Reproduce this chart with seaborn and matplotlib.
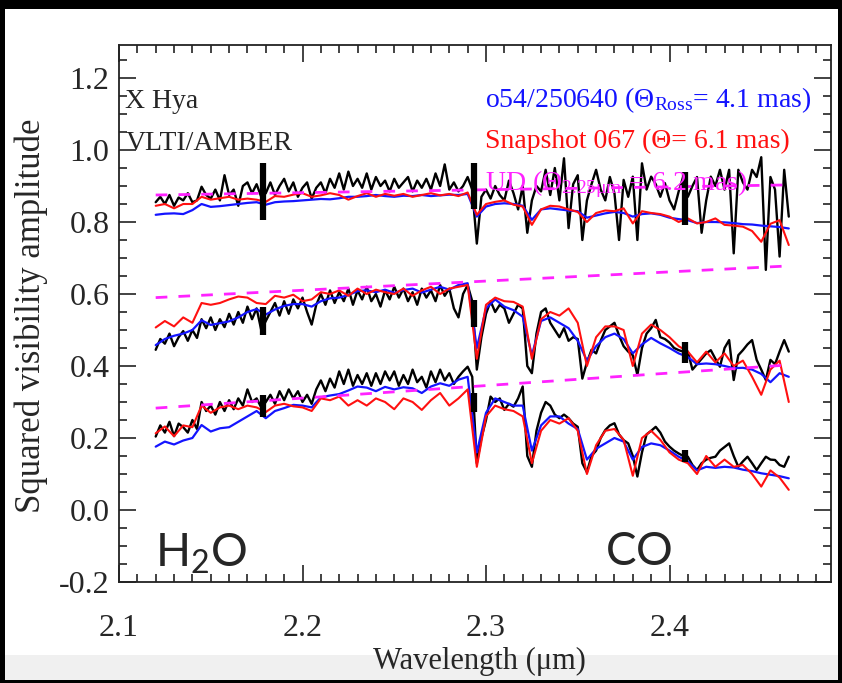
import numpy as np
import matplotlib
matplotlib.use("Agg")
import matplotlib.pyplot as plt
from matplotlib.patches import Rectangle
from matplotlib.ticker import MultipleLocator, FormatStrFormatter
import seaborn as sns

# ---------------------------------------------------------------------------
# X Hya, VLTI/AMBER squared visibilities vs. wavelength (three baselines)
# ---------------------------------------------------------------------------
wl_obs = np.linspace(2.12, 2.465, 139)     # observed spectral channels
wl_mod = np.linspace(2.12, 2.465, 70)      # model sampling

# observed V^2 (black)
top_obs = [
    0.855, 0.87, 0.85, 0.875, 0.845, 0.868, 0.86, 0.88, 0.855, 0.86,
    0.898, 0.875, 0.865, 0.89, 0.86, 0.93, 0.875, 0.89, 0.845, 0.9,
    0.91, 0.88, 0.905, 0.87, 0.88, 0.91, 0.875, 0.9, 0.92, 0.885,
    0.91, 0.87, 0.895, 0.91, 0.865, 0.895, 0.91, 0.88, 0.92, 0.895,
    0.935, 0.89, 0.94, 0.9, 0.92, 0.895, 0.935, 0.89, 0.925, 0.9,
    0.915, 0.885, 0.92, 0.895, 0.91, 0.925, 0.885, 0.915, 0.895, 0.92,
    0.89, 0.935, 0.9, 0.96, 0.89, 0.91, 0.885, 0.9, 0.925, 0.89,
    0.74, 0.87, 0.89, 0.865, 0.9, 0.875, 0.86, 0.915, 0.88, 0.835,
    0.9, 0.77, 0.86, 0.9, 0.885, 0.945, 0.875, 0.95, 0.86, 0.977,
    0.783, 0.905, 0.93, 0.75, 0.86, 0.905, 0.945, 0.89, 0.86, 0.925,
    0.88, 0.75, 0.917, 0.87, 0.926, 0.75, 0.963, 0.89, 0.926, 0.905,
    0.87, 0.908, 0.86, 0.835, 0.885, 0.926, 0.87, 0.90, 0.925, 0.77,
    0.86, 0.926, 0.9, 0.945, 0.89, 0.945, 0.713, 0.945, 0.91, 0.89,
    0.945, 0.925, 0.98, 0.667, 0.925, 0.89, 0.704, 0.945, 0.815,
]
mid_obs = [
    0.445, 0.475, 0.462, 0.49, 0.455, 0.48, 0.497, 0.47, 0.50, 0.478,
    0.53, 0.505, 0.535, 0.50, 0.53, 0.508, 0.545, 0.515, 0.55, 0.52,
    0.565, 0.53, 0.56, 0.50, 0.525, 0.55, 0.575, 0.54, 0.58, 0.545,
    0.585, 0.56, 0.59, 0.55, 0.515, 0.57, 0.60, 0.57, 0.61, 0.575,
    0.605, 0.58, 0.615, 0.57, 0.61, 0.585, 0.62, 0.58, 0.60, 0.565,
    0.61, 0.585, 0.62, 0.59, 0.615, 0.58, 0.605, 0.57, 0.615, 0.59,
    0.61, 0.58, 0.625, 0.595, 0.615, 0.56, 0.535, 0.60, 0.625, 0.58,
    0.39, 0.48, 0.545, 0.58, 0.55, 0.57, 0.56, 0.52, 0.545, 0.57,
    0.56, 0.40, 0.38, 0.49, 0.55, 0.56, 0.52, 0.50, 0.48, 0.505,
    0.47, 0.48, 0.475, 0.365, 0.41, 0.445, 0.435, 0.47, 0.50, 0.51,
    0.52, 0.485, 0.455, 0.44, 0.43, 0.375, 0.45, 0.49, 0.505, 0.528,
    0.48, 0.475, 0.465, 0.45, 0.444, 0.44, 0.44, 0.39, 0.405, 0.42,
    0.435, 0.444, 0.42, 0.398, 0.45, 0.472, 0.361, 0.43, 0.444, 0.46,
    0.472, 0.417, 0.39, 0.361, 0.417, 0.405, 0.44, 0.472, 0.44,
]
bot_obs = [
    0.204, 0.235, 0.215, 0.245, 0.205, 0.24, 0.23, 0.215, 0.25, 0.225,
    0.30, 0.275, 0.29, 0.265, 0.30, 0.275, 0.305, 0.28, 0.31, 0.29,
    0.335, 0.30, 0.31, 0.285, 0.30, 0.32, 0.295, 0.33, 0.305, 0.335,
    0.31, 0.33, 0.30, 0.32, 0.295, 0.335, 0.36, 0.33, 0.365, 0.34,
    0.385, 0.35, 0.39, 0.345, 0.375, 0.35, 0.38, 0.345, 0.38, 0.35,
    0.385, 0.36, 0.385, 0.345, 0.375, 0.35, 0.39, 0.355, 0.37, 0.34,
    0.385, 0.355, 0.39, 0.36, 0.38, 0.35, 0.37, 0.385, 0.398, 0.37,
    0.13, 0.20, 0.25, 0.315, 0.30, 0.31, 0.278, 0.295, 0.287, 0.31,
    0.343, 0.15, 0.12, 0.22, 0.27, 0.30, 0.29, 0.265, 0.255, 0.265,
    0.255, 0.24, 0.231, 0.13, 0.105, 0.15, 0.165, 0.20, 0.222, 0.235,
    0.241, 0.21, 0.194, 0.185, 0.15, 0.093, 0.16, 0.21, 0.22, 0.231,
    0.215, 0.19, 0.176, 0.165, 0.157, 0.15, 0.148, 0.125, 0.111, 0.13,
    0.14, 0.145, 0.148, 0.165, 0.175, 0.185, 0.15, 0.12, 0.135, 0.148,
    0.13, 0.111, 0.13, 0.148, 0.14, 0.139, 0.125, 0.12, 0.148,
]

# dynamic model atmosphere o54/250640 (blue)
top_dyn = [
    0.82, 0.823, 0.824, 0.822, 0.833, 0.85, 0.842, 0.844, 0.847, 0.85,
    0.853, 0.855, 0.848, 0.855, 0.857, 0.858, 0.86, 0.862, 0.864, 0.863,
    0.866, 0.87, 0.87, 0.872, 0.875, 0.872, 0.87, 0.873, 0.872, 0.875,
    0.872, 0.874, 0.876, 0.875, 0.878, 0.815, 0.843, 0.85, 0.852, 0.85,
    0.845, 0.806, 0.835, 0.838, 0.835, 0.832, 0.83, 0.812, 0.818, 0.824,
    0.828, 0.825, 0.815, 0.822, 0.824, 0.82, 0.812, 0.808, 0.805, 0.797,
    0.80, 0.80, 0.799, 0.797, 0.794, 0.793, 0.79, 0.788, 0.786, 0.782,
]
mid_dyn = [
    0.458, 0.475, 0.484, 0.49, 0.50, 0.527, 0.514, 0.519, 0.524, 0.535,
    0.55, 0.558, 0.543, 0.557, 0.567, 0.572, 0.572, 0.565, 0.58, 0.588,
    0.59, 0.597, 0.608, 0.61, 0.605, 0.612, 0.603, 0.611, 0.615, 0.604,
    0.612, 0.62, 0.612, 0.625, 0.63, 0.45, 0.56, 0.585, 0.565, 0.555,
    0.537, 0.43, 0.525, 0.535, 0.52, 0.505, 0.47, 0.415, 0.455, 0.48,
    0.49, 0.475, 0.435, 0.46, 0.478, 0.463, 0.45, 0.435, 0.425, 0.405,
    0.407, 0.405, 0.40, 0.394, 0.395, 0.39, 0.378, 0.355, 0.38, 0.37,
]
bot_dyn = [
    0.176, 0.19, 0.182, 0.193, 0.20, 0.236, 0.218, 0.227, 0.23, 0.245,
    0.26, 0.275, 0.255, 0.275, 0.283, 0.292, 0.29, 0.285, 0.313, 0.318,
    0.322, 0.332, 0.343, 0.34, 0.33, 0.342, 0.335, 0.341, 0.338, 0.325,
    0.343, 0.352, 0.345, 0.362, 0.37, 0.16, 0.27, 0.31, 0.30, 0.29,
    0.29, 0.165, 0.235, 0.26, 0.26, 0.24, 0.225, 0.14, 0.17, 0.185,
    0.20, 0.19, 0.14, 0.175, 0.185, 0.18, 0.165, 0.148, 0.135, 0.11,
    0.12, 0.117, 0.12, 0.118, 0.112, 0.108, 0.102, 0.098, 0.094, 0.088,
]

# 3D snapshot 067 (red)
top_snap = [
    0.845, 0.85, 0.838, 0.85, 0.85, 0.87, 0.862, 0.866, 0.87, 0.862,
    0.865, 0.862, 0.856, 0.872, 0.87, 0.876, 0.88, 0.87, 0.874, 0.88,
    0.875, 0.862, 0.872, 0.88, 0.87, 0.878, 0.873, 0.878, 0.87, 0.875,
    0.88, 0.874, 0.878, 0.872, 0.882, 0.82, 0.85, 0.856, 0.86, 0.848,
    0.843, 0.792, 0.835, 0.845, 0.843, 0.835, 0.828, 0.80, 0.825, 0.832,
    0.83, 0.838, 0.796, 0.83, 0.825, 0.822, 0.815, 0.80, 0.81, 0.796,
    0.80, 0.81, 0.792, 0.79, 0.787, 0.775, 0.745, 0.795, 0.805, 0.736,
]
mid_snap = [
    0.507, 0.525, 0.51, 0.535, 0.52, 0.575, 0.57, 0.575, 0.585, 0.593,
    0.59, 0.575, 0.572, 0.595, 0.59, 0.598, 0.58, 0.585, 0.605, 0.60,
    0.61, 0.595, 0.615, 0.60, 0.612, 0.605, 0.60, 0.615, 0.595, 0.61,
    0.62, 0.60, 0.615, 0.62, 0.625, 0.42, 0.57, 0.59, 0.58, 0.578,
    0.565, 0.42, 0.53, 0.55, 0.54, 0.56, 0.52, 0.40, 0.48, 0.51,
    0.51, 0.50, 0.40, 0.49, 0.515, 0.50, 0.48, 0.455, 0.44, 0.41,
    0.44, 0.41, 0.435, 0.40, 0.415, 0.37, 0.32, 0.39, 0.415, 0.30,
]
bot_snap = [
    0.213, 0.232, 0.205, 0.235, 0.23, 0.29, 0.27, 0.285, 0.29, 0.28,
    0.29, 0.285, 0.272, 0.29, 0.295, 0.288, 0.285, 0.275, 0.31, 0.305,
    0.315, 0.29, 0.305, 0.29, 0.31, 0.30, 0.28, 0.31, 0.30, 0.278,
    0.305, 0.325, 0.29, 0.31, 0.335, 0.12, 0.26, 0.29, 0.28, 0.275,
    0.26, 0.13, 0.22, 0.25, 0.24, 0.255, 0.22, 0.10, 0.18, 0.22,
    0.225, 0.195, 0.095, 0.20, 0.22, 0.195, 0.16, 0.14, 0.13, 0.10,
    0.15, 0.12, 0.14, 0.12, 0.125, 0.10, 0.065, 0.11, 0.09, 0.056,
]

# uniform-disk fits (magenta dashed), end points of each baseline
ud_wl = [2.12, 2.465]
ud_top = [0.875, 0.903]
ud_mid = [0.59, 0.678]
ud_bot = [0.283, 0.403]

# representative error bars
err_wl = [2.1785, 2.2935, 2.4084]
err_top = [0.885, 0.90, 0.865]
err_top_sd = [0.079, 0.065, 0.073]
err_mid = [0.525, 0.546, 0.437]
err_mid_sd = [0.04, 0.037, 0.03]
err_bot = [0.289, 0.298, 0.15]
err_bot_sd = [0.03, 0.027, 0.017]

x_ticks = [2.1, 2.2, 2.3, 2.4]
y_ticks = [-0.2, 0.0, 0.2, 0.4, 0.6, 0.8, 1.0, 1.2]

# ---------------------------------------------------------------------------
sns.set_theme(style="ticks")
plt.rcParams["font.family"] = ["Liberation Serif", "DejaVu Serif"]
plt.rcParams["mathtext.fontset"] = "custom"
plt.rcParams["mathtext.rm"] = "Liberation Serif"
plt.rcParams["mathtext.it"] = "Liberation Serif:italic"
plt.rcParams["mathtext.sf"] = "Lato"
plt.rcParams["axes.unicode_minus"] = False

W, H = 842, 683
fig = plt.figure(figsize=(W / 100, H / 100), dpi=100, facecolor="white")
L, R, T, B = 119, 831, 45, 582
ax = fig.add_axes([L / W, 1 - B / H, (R - L) / W, (B - T) / H])
ax.set_facecolor("white")

BLUE = "#1414ff"
RED = "#ff1010"
MAG = "#ff22ff"

for obs, dyn, snap in [(top_obs, top_dyn, top_snap),
                       (mid_obs, mid_dyn, mid_snap),
                       (bot_obs, bot_dyn, bot_snap)]:
    sns.lineplot(x=wl_obs, y=obs, color="black", linewidth=1.7, ax=ax,
                 estimator=None, sort=False, zorder=2)
    sns.lineplot(x=wl_mod, y=dyn, color=BLUE, linewidth=1.6, ax=ax,
                 estimator=None, sort=False, zorder=3)
    sns.lineplot(x=wl_mod, y=snap, color=RED, linewidth=1.5, ax=ax,
                 estimator=None, sort=False, zorder=4)

for ud in (ud_top, ud_mid, ud_bot):
    ax.plot(ud_wl, ud, color=MAG, linewidth=2.0, dashes=(4.2, 4.0), zorder=5)

for c, sd in [(err_top, err_top_sd), (err_mid, err_mid_sd), (err_bot, err_bot_sd)]:
    ax.errorbar(err_wl, c, yerr=sd, fmt="none", ecolor="black",
                elinewidth=4.5, capsize=0, zorder=6)

ax.set_xlim(2.1, 2.1 + (R - L) / 1835)
ax.set_ylim(-0.2, -0.2 + (B - T) / 360)
ax.set_xticks(x_ticks)
ax.set_yticks(y_ticks)
ax.xaxis.set_minor_locator(MultipleLocator(0.01))
ax.yaxis.set_minor_locator(MultipleLocator(0.05))
ax.xaxis.set_major_formatter(FormatStrFormatter("%.1f"))
ax.yaxis.set_major_formatter(FormatStrFormatter("%.1f"))
ax.tick_params(which="both", direction="in", top=True, right=True,
               color="#222222", width=1.2)
ax.tick_params(which="major", length=12, labelsize=23)
ax.tick_params(axis="x", which="major", pad=23)
ax.tick_params(axis="y", which="major", pad=7)
ax.tick_params(which="minor", length=6)
for s in ax.spines.values():
    s.set_color("#222222")
    s.set_linewidth(1.3)
    s.set_visible(True)

ax.set_ylabel("Squared visibility amplitude", fontsize=25)
ax.yaxis.set_label_coords(-0.1, 0.495)
ax.set_xlabel("Wavelength (\u03bcm)", fontsize=22)
ax.xaxis.set_label_coords(0.506, -0.121)

ax.text(2.1035, 1.117, "X Hya", fontsize=20, va="baseline", ha="left", zorder=7)
ax.text(2.1035, 1.0, "VLTI/AMBER", fontsize=20, va="baseline", ha="left", zorder=7)
ax.text(2.2995, 1.119, "o54/250640 (\u0398$_{\\mathrm{Ross}}$= 4.1 mas)",
        color=BLUE, fontsize=20, va="baseline", ha="left", zorder=7)
ax.text(2.2995, 1.006, "Snapshot 067 (\u0398= 6.1 mas)",
        color=RED, fontsize=20, va="baseline", ha="left", zorder=7)
ax.text(2.2995, 0.889, "UD (\u0398$_{\\mathrm{2.25\\mu m}}$ = 6.2 mas)",
        color=MAG, fontsize=20, va="baseline", ha="left", zorder=7)

ax.text(2.1196, -0.158, "$\\mathsf{H_2O}$", fontsize=33, va="baseline",
        ha="left", zorder=7)
ax.text(2.3649, -0.153, "$\\mathsf{CO}$", fontsize=33, va="baseline",
        ha="left", zorder=7)

# screen frame around the slide
fig.add_artist(Rectangle((0, 3 / H), 1, 25 / H, transform=fig.transFigure,
                         facecolor="#f0f0f0", edgecolor="none", zorder=-1))
for (x0, y0, w, h) in [(0, 1 - 9 / H, 1, 9 / H), (0, 0, 5 / W, 1),
                       (1 - 4 / W, 0, 4 / W, 1), (0, 0, 1, 3 / H)]:
    fig.add_artist(Rectangle((x0, y0), w, h, transform=fig.transFigure,
                             facecolor="black", edgecolor="none", zorder=20))

fig.savefig("out.png", dpi=100, facecolor="white")
